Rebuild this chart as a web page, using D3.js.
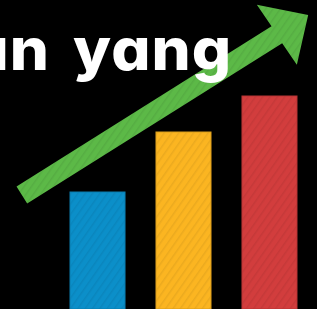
<!DOCTYPE html>
<html><head><meta charset="utf-8">
<script src="https://cdn.jsdelivr.net/npm/d3@7"></script>
<style>
html,body{margin:0;padding:0;background:#000;overflow:hidden}
</style></head>
<body><svg id="c" width="317" height="309"></svg>
<script>
const categories = ["A", "B", "C"];
const values = [39, 59, 71];
const colors = ["#0b8fc9", "#fbb521", "#d23d3d"];
const trendStart = [-0.88, 38];
const trendEnd = [2.45, 98];
const titleText = "un yang";

const W = 317, H = 309;
const svg = d3.select("#c");
svg.append("rect").attr("width", W).attr("height", H).attr("fill", "#000");

const x = d3.scaleBand().domain(categories).range([70, 297]).paddingInner(0.36).paddingOuter(0);
const y = d3.scaleLinear().domain([0, 100]).range([H, 9]);
const xi = d3.scaleLinear().domain([0, 1]).range([x(categories[0]) + x.bandwidth()/2, x(categories[1]) + x.bandwidth()/2]);

const defs = svg.append("defs");
colors.concat(["#5cb947"]).forEach((c, i) => {
  const p = defs.append("pattern").attr("id", "h" + i).attr("patternUnits", "userSpaceOnUse")
    .attr("width", 6).attr("height", 6).attr("patternTransform", "rotate(35)");
  p.append("rect").attr("width", 6).attr("height", 6).attr("fill", c);
  p.append("rect").attr("width", 1.5).attr("height", 6).attr("fill", d3.color(c).darker(0.18));
});

svg.selectAll("rect.bar").data(values).join("rect").attr("class", "bar")
  .attr("x", (d, i) => x(categories[i]))
  .attr("y", d => y(d))
  .attr("width", x.bandwidth())
  .attr("height", d => y(0) - y(d))
  .attr("fill", (d, i) => `url(#h${i})`)
  .attr("stroke", (d, i) => d3.color(colors[i]).darker(0.4))
  .attr("stroke-width", 1);

// arrow
const p0 = [xi(trendStart[0]), y(trendStart[1])];
const p1 = [xi(trendEnd[0]), y(trendEnd[1])];
const dx = p1[0] - p0[0], dy = p1[1] - p0[1];
const len = Math.hypot(dx, dy);
const u = [dx / len, dy / len], n = [-u[1], u[0]];
const sw = 10, hb = 37, hw = 36;
const pt = (a, b) => [p1[0] + u[0] * a + n[0] * b, p1[1] + u[1] * a + n[1] * b];
const pts = [pt(-len, -sw), pt(-hb, -sw), pt(-hb - 1, -hw), pt(0, 0), pt(-hb + 1, hw), pt(-hb, sw), pt(-len, sw)];
svg.append("path").attr("d", d3.line()(pts) + "Z").attr("fill", "url(#h3)");

const g = svg.append("g");
const t = g.append("text").attr("x", 0).attr("y", 70)
  .attr("font-family", "Inter").attr("font-weight", 800).attr("font-size", 58)
  .style("letter-spacing", "1px").style("word-spacing", "8px")
  .style("font-feature-settings", "'cv11' 1")
  .attr("fill", "#fff").text(titleText);
const e1 = t.node().getExtentOfChar(1);
const e6 = t.node().getExtentOfChar(titleText.length - 1);
const a0 = e1.x + 3, a1 = e6.x + e6.width - 1 - 3;
const s = (228 - 13) / (a1 - a0);
g.attr("transform", `translate(${13 - a0 * s},0) scale(${s},1)`);
</script></body></html>
